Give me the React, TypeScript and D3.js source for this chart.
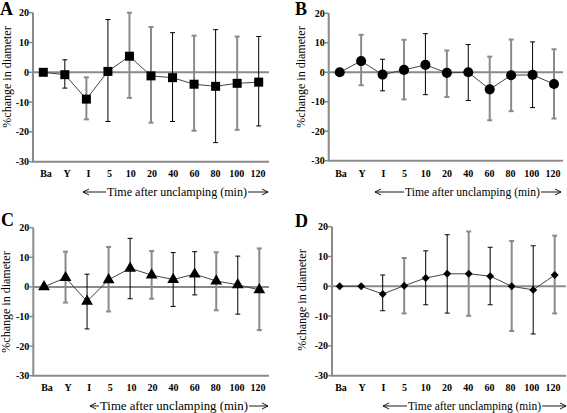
import React from "react";
import * as d3 from "d3";

const categories = ["Ba", "Y", "I", "5", "10", "20", "40", "60", "80", "100", "120"];
const yTicks = [20, 10, 0, -10, -20, -30];

const meanA = [0, -0.8, -9, 0.3, 5.4, -1.2, -1.8, -4, -4.7, -3.7, -3.3];
const upperA = [0, 4.2, -1.7, 17.7, 20, 15.2, 13.3, 12.3, 14.3, 12, 12];
const lowerA = [0, -5.3, -15.8, -16.5, -8.6, -16.9, -16.5, -19.6, -23.6, -19.3, -18];

const meanB = [0, 3.8, -0.8, 0.8, 2.5, -0.2, 0, -5.8, -1, -0.9, -4];
const upperB = [0, 12.7, 4.4, 11, 13.1, 7.4, 9.4, 5.3, 11.1, 10.3, 7.8];
const lowerB = [0, -4.4, -6.3, -9.2, -7.6, -8.4, -9.6, -16.3, -13.2, -12, -15.7];

const meanC = [0, 3.1, -4.9, 2.4, 6.3, 4.0, 2.5, 4.3, 2.0, 0.7, -1];
const upperC = [0, 11.9, 4.3, 13.5, 16.4, 12.1, 11.6, 11.9, 11.7, 10.4, 13];
const lowerC = [0, -5.3, -14.2, -8.3, -4.0, -4.0, -6.6, -2.7, -7.9, -9.2, -14.6];

const meanD = [0, 0, -2.6, 0.2, 2.8, 4.2, 4.2, 3.4, 0, -1.2, 3.8];
const upperD = [0, 0, 3.8, 9.5, 11.9, 17.3, 18.4, 13.1, 15.2, 13.6, 17];
const lowerD = [0, 0, -8.2, -9.1, -6.2, -9.0, -9.9, -6.2, -15, -16, -9.1];

const GRAY = "#8a8a8a";
const FONT = "Liberation Serif, DejaVu Serif, serif";

type Panel = {
  letter: string;
  mean: number[];
  upper: number[];
  lower: number[];
  symbol: d3.SymbolType;
  symSize: number;
  grayBars: boolean[];
  axisX: number;
  yTop: number;
  yBottom: number;
  xEnd: number;
  cat0: number;
  cat1: number;
  lab0: number;
  lab1: number;
  letterX: number;
  letterY: number;
  ylabX: number;
  ylabY: number;
  tickLabY: number;
  timeY: number;
  arrowL0: number;
  textL: number;
  textR: number;
  arrowR1: number;
};

const g = true, b = false;

const panels: Panel[] = [
  {
    letter: "A", mean: meanA, upper: upperA, lower: lowerA,
    symbol: d3.symbolSquare, symSize: 81,
    grayBars: [b, b, g, b, g, g, b, g, b, g, b],
    axisX: 33, yTop: 12.7, yBottom: 161.7, xEnd: 269, cat0: 43.3, cat1: 258.7,
    lab0: 46, lab1: 258, letterX: 0, letterY: 15, ylabX: 11, ylabY: 77,
    tickLabY: 177, timeY: 196, arrowL0: 83, textL: 107, textR: 247, arrowR1: 268,
  },
  {
    letter: "B", mean: meanB, upper: upperB, lower: lowerB,
    symbol: d3.symbolCircle, symSize: 80,
    grayBars: [b, g, b, g, b, g, b, g, g, b, g],
    axisX: 328.7, yTop: 13.3, yBottom: 160.7, xEnd: 563, cat0: 339.7, cat1: 554,
    lab0: 341, lab1: 553, letterX: 295, letterY: 15, ylabX: 305, ylabY: 77,
    tickLabY: 177, timeY: 196, arrowL0: 375, textL: 405, textR: 540, arrowR1: 561,
  },
  {
    letter: "C", mean: meanC, upper: upperC, lower: lowerC,
    symbol: d3.symbolTriangle, symSize: 60,
    grayBars: [b, g, b, g, b, g, b, b, g, b, g],
    axisX: 33.3, yTop: 227.7, yBottom: 375.7, xEnd: 269, cat0: 44, cat1: 259.3,
    lab0: 47, lab1: 258, letterX: 1, letterY: 226, ylabX: 10, ylabY: 302,
    tickLabY: 391, timeY: 410, arrowL0: 90, textL: 100, textR: 248, arrowR1: 268,
  },
  {
    letter: "D", mean: meanD, upper: upperD, lower: lowerD,
    symbol: d3.symbolDiamond2, symSize: 40,
    grayBars: [b, b, b, g, b, b, g, b, g, b, g],
    axisX: 332, yTop: 226.7, yBottom: 375.7, xEnd: 566, cat0: 339.7, cat1: 554.7,
    lab0: 341, lab1: 553, letterX: 295, letterY: 227, ylabX: 306, ylabY: 300,
    tickLabY: 391, timeY: 410, arrowL0: 383, textL: 408, textR: 541, arrowR1: 566,
  },
];

function Arrow({ x0, x1, y, dir }: { x0: number; x1: number; y: number; dir: "left" | "right" }) {
  const tip = dir === "left" ? x0 : x1;
  const s = dir === "left" ? 1 : -1;
  return (
    <g stroke="#000" strokeWidth={0.9} fill="none">
      <line x1={x0} y1={y} x2={x1} y2={y} />
      <polyline points={`${tip + s * 6},${y - 3} ${tip},${y} ${tip + s * 6},${y + 3}`} />
    </g>
  );
}

function PanelChart({ p }: { p: Panel }) {
  const y = d3.scaleLinear().domain([-30, 20]).range([p.yBottom, p.yTop]);
  const x = d3.scalePoint<string>().domain(categories).range([p.cat0, p.cat1]);
  const xl = d3.scalePoint<string>().domain(categories).range([p.lab0, p.lab1]);
  const sym = d3.symbol().type(p.symbol).size(p.symSize)();
  const timeTextY = p.timeY - 4;
  return (
    <g>
      <text x={p.letterX} y={p.letterY} style={{ fontFamily: FONT }} fontWeight="bold" fontSize={18}>
        {p.letter}
      </text>
      <text
        transform={`translate(${p.ylabX},${p.ylabY}) rotate(-90)`}
        textAnchor="middle"
        style={{ fontFamily: FONT }}
        fontSize={12}
      >
        %change in diameter
      </text>
      {/* zero line */}
      <line x1={p.axisX} x2={p.xEnd} y1={y(0)} y2={y(0)} stroke={GRAY} strokeWidth={2} />
      {/* axes */}
      <line x1={p.axisX} x2={p.axisX} y1={y(20)} y2={y(-30)} stroke={GRAY} strokeWidth={2} />
      <line x1={p.axisX - 1} x2={p.xEnd} y1={y(-30)} y2={y(-30)} stroke={GRAY} strokeWidth={2} />
      {yTicks.map((t) => (
        <g key={t}>
          <line x1={p.axisX - 4} x2={p.axisX} y1={y(t)} y2={y(t)} stroke={GRAY} strokeWidth={1.5} />
          <text
            x={p.axisX - 4}
            y={y(t) + 3.5}
            textAnchor="end"
            style={{ fontFamily: FONT }}
            fontWeight="bold"
            fontSize={10}
          >
            {t}
          </text>
        </g>
      ))}
      {categories.map((c) => (
        <text
          key={c}
          x={xl(c)}
          y={p.tickLabY}
          textAnchor="middle"
          style={{ fontFamily: FONT }}
          fontWeight="bold"
          fontSize={10}
        >
          {c}
        </text>
      ))}
      {/* error bars */}
      {categories.map((c, i) => {
        if (p.upper[i] === p.lower[i]) return null;
        const gray = p.grayBars[i];
        const col = gray ? GRAY : "#000";
        const w = gray ? 2 : 1;
        const cx = x(c)!;
        return (
          <g key={c} stroke={col} strokeWidth={w}>
            <line x1={cx} x2={cx} y1={y(p.upper[i])} y2={y(p.lower[i])} />
            <line x1={cx - 2.5} x2={cx + 2.5} y1={y(p.upper[i])} y2={y(p.upper[i])} />
            <line x1={cx - 2.5} x2={cx + 2.5} y1={y(p.lower[i])} y2={y(p.lower[i])} />
          </g>
        );
      })}
      {/* connecting line */}
      <path
        d={d3.line<number>().x((_, i) => x(categories[i])!).y((v) => y(v))(p.mean) || ""}
        fill="none"
        stroke="#444"
        strokeWidth={1}
      />
      {categories.map((c, i) => (
        <path key={c} d={sym || ""} transform={`translate(${x(c)},${y(p.mean[i])})`} fill="#000" />
      ))}
      {/* time label */}
      <Arrow x0={p.arrowL0} x1={p.textL - 1} y={timeTextY} dir="left" />
      <text
        x={(p.textL + p.textR) / 2}
        y={p.timeY}
        textAnchor="middle"
        style={{ fontFamily: FONT }}
        fontSize={12}
        textLength={p.textR - p.textL}
        lengthAdjust="spacingAndGlyphs"
      >
        Time after unclamping (min)
      </text>
      <Arrow x0={p.textR + 1} x1={p.arrowR1} y={timeTextY} dir="right" />
    </g>
  );
}

export default function App() {
  return (
    <svg
      width={567}
      height={413}
      viewBox="0 0 567 413"
      style={{ position: "absolute", left: 0, top: 0, background: "#fff" }}
    >
      <rect width={567} height={413} fill="#fff" />
      {panels.map((p) => (
        <PanelChart key={p.letter} p={p} />
      ))}
    </svg>
  );
}
